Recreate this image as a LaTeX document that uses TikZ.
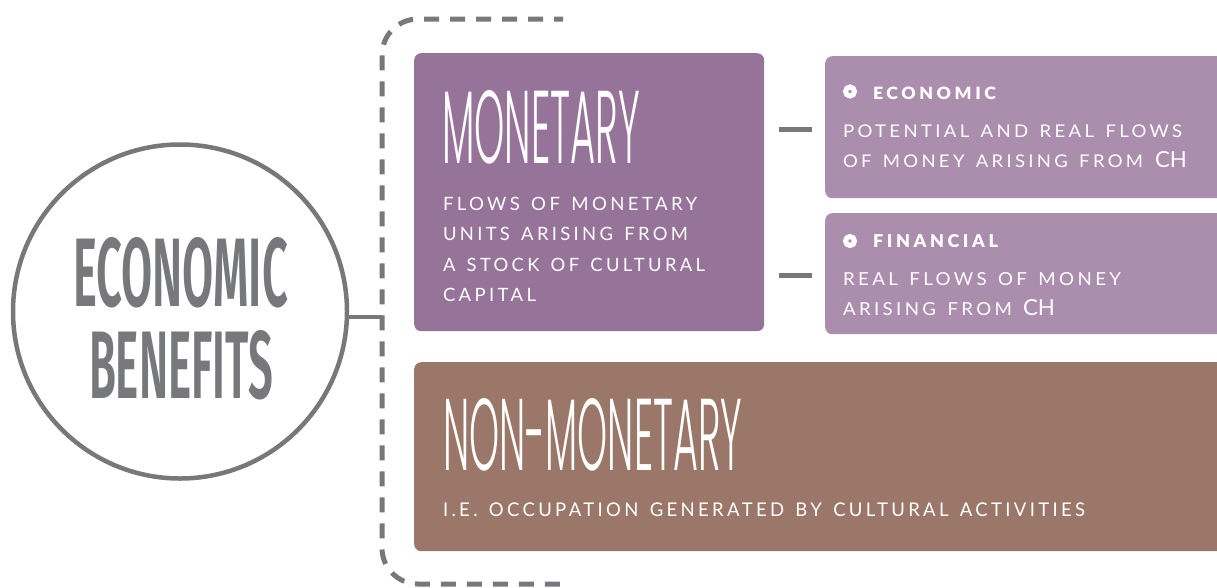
\documentclass[tikz,border=0pt]{standalone}
\usepackage{fontspec}
\usepackage{graphicx}
\IfFontExistsTF{Poppins Light}{\newfontfamily\headf{Poppins Light}}{\newfontfamily\headf{Poppins}}
\IfFontExistsTF{Fira Sans SemiBold}{\newfontfamily\circf{Fira Sans SemiBold}}{\newfontfamily\circf{Fira Sans}}
\newfontfamily\smallf{Lato}[LetterSpace=18, WordSpace=1.4]
\IfFontExistsTF{Lato Black}{\newfontfamily\titlef{Lato Black}[LetterSpace=20]}{\newfontfamily\titlef{Lato Bold}[LetterSpace=20]}
\newfontfamily\chf{Lato}
\definecolor{monc}{HTML}{967499}
\definecolor{lpc}{HTML}{AB8DAD}
\definecolor{brc}{HTML}{9A7768}
\definecolor{grc}{HTML}{77787B}
\newcommand\fitto[3]{\resizebox{#1pt}{#2pt}{#3}}
\tikzset{
  boxnode/.style={rectangle, rounded corners=7pt, inner sep=0pt, anchor=north west, draw=none},
  txt/.style={anchor=base west, inner sep=0pt, outer sep=0pt, text=white},
  conn/.style={draw=grc, line width=5pt},
  brk/.style={draw=grc, line width=5pt, dash pattern=on 15pt off 11pt, dash phase=6pt, rounded corners=36pt},
  bullet/.style={circle, draw=white, line width=5pt, fill=lpc, minimum size=9pt, inner sep=0pt}
}
\begin{document}
\begin{tikzpicture}[x=1pt,y=-1pt]
\useasboundingbox (0,0) rectangle (1217,587);
% boxes
\node[boxnode, fill=monc, minimum width=350pt, minimum height=278pt] (mon) at (414,53) {};
\node[boxnode, fill=lpc, minimum width=420pt, minimum height=142pt] (econ) at (825,56) {};
\node[boxnode, fill=lpc, minimum width=420pt, minimum height=121pt] (fin) at (825,213) {};
\node[boxnode, fill=brc, minimum width=830pt, minimum height=189pt] (non) at (414,362) {};
% circle
\node[circle, draw=grc, line width=4.5pt, minimum size=334pt, inner sep=0pt] (eb) at (180,311.5) {};
% bracket
\coordinate (bt) at (563,19);
\coordinate (btc) at (382,19);
\coordinate (bbc) at (382,584);
\coordinate (bb) at (563,584);
\draw[brk] (bt) -- (btc) -- (bbc) -- (bb);
\draw[draw=grc, line width=4pt] (eb.-2) -- (eb.-2 -| btc);
% short connectors
\draw[conn] (mon.east |- econ.west) ++(15,2) -- ([xshift=-13pt,yshift=-2pt]econ.west);
\draw[conn] (mon.east |- fin.west) ++(15,1.5) -- ([xshift=-13pt,yshift=-1.5pt]fin.west);
% circle text
\node[txt, text=grc] (tc1) at (73,306) {\fitto{215}{69}{\circf ECONOMIC}};
\node[txt, text=grc] (tc2) at (89,398) {\fitto{184}{68}{\circf BENEFITS}};
% monetary
\node[txt] (tmon) at (442,163) {\fitto{198}{73}{\headf MONETARY}};
\node[txt] (tm1) at (443,210) {\fitto{254}{13.3}{\smallf FLOWS OF MONETARY}};
\node[txt] (tm2) at (443,240) {\fitto{245}{13.3}{\smallf UNITS ARISING FROM}};
\node[txt] (tm3) at (443,271) {\fitto{262}{13.3}{\smallf A STOCK OF CULTURAL}};
\node[txt] (tm4) at (443,301) {\fitto{93}{13.3}{\smallf CAPITAL}};
% economic
\node[bullet] (b1) at (850,91.5) {};
\node[txt] (tet) at (873,99) {\fitto{123}{12.5}{\titlef ECONOMIC}};
\node[txt] (te1) at (843,137.7) {\fitto{339}{12.7}{\smallf POTENTIAL AND REAL FLOWS}};
\node[txt] (te2) at (843,167.7) {\fitto{300}{12.7}{\smallf OF MONEY ARISING FROM}};
\node[txt] (te3) at (1155,167.7) {\fitto{32}{16}{\chf CH}};
% financial
\node[bullet] (b2) at (850,241) {};
\node[txt] (tft) at (873,247.7) {\fitto{125}{13}{\titlef FINANCIAL}};
\node[txt] (tf1) at (843,285) {\fitto{278}{13}{\smallf REAL FLOWS OF MONEY}};
\node[txt] (tf2) at (843,315) {\fitto{169}{13}{\smallf ARISING FROM}};
\node[txt] (tf3) at (1023,315) {\fitto{32}{16}{\chf CH}};
% non-monetary
\node[txt] (tnon) at (443,470) {\fitto{299}{72}{\headf NON-MONETARY}};
\node[txt] (tn1) at (443,516.5) {\fitto{642}{13.7}{\smallf I.E. OCCUPATION GENERATED BY CULTURAL ACTIVITIES}};
\end{tikzpicture}
\end{document}
